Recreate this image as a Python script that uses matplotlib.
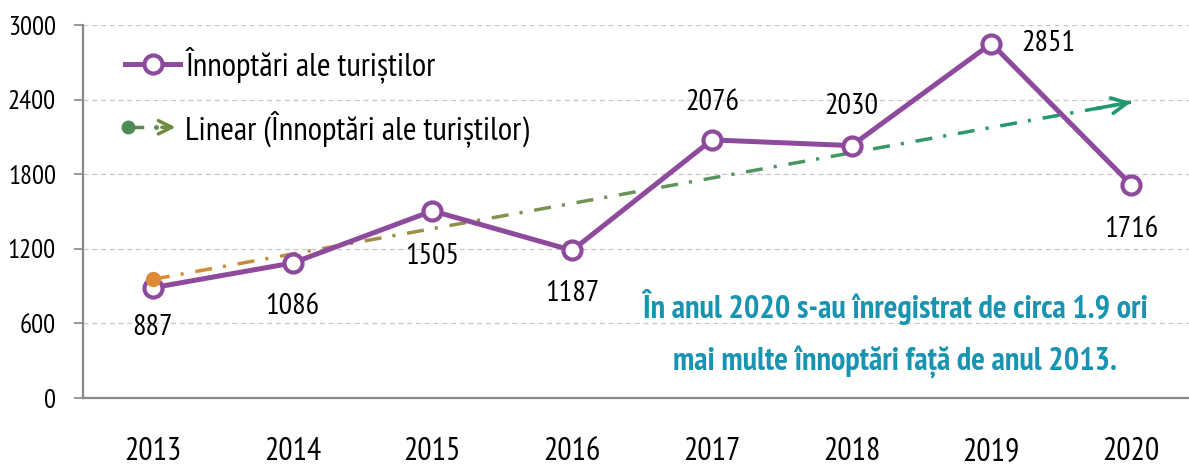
import numpy as np
import matplotlib
matplotlib.use('Agg')
import matplotlib.pyplot as plt
from matplotlib import font_manager as fm
from matplotlib.lines import Line2D
from matplotlib.patches import Rectangle, FancyArrowPatch
from matplotlib.legend_handler import HandlerBase
from matplotlib.colors import to_rgb

years = ['2013', '2014', '2015', '2016', '2017', '2018', '2019', '2020']
nights = [887, 1086, 1505, 1187, 2076, 2030, 2851, 1716]
y_ticks = [0, 600, 1200, 1800, 2400, 3000]
series_name = 'Înnoptări ale turiștilor'
trend_name = 'Linear (Înnoptări ale turiștilor)'
note_1 = 'În anul 2020 s-au înregistrat de circa 1.9 ori'
note_2 = 'mai multe înnoptări față de anul 2013.'

# narrow font like the original, if one is installed
installed = {f.name for f in fm.fontManager.ttflist}
for cand in ['PT Sans Narrow', 'Fira Sans Condensed', 'Roboto Condensed',
             'Liberation Sans Narrow', 'DejaVu Sans']:
    if cand in installed:
        font = cand
        break
plt.rcParams['font.family'] = [font, 'DejaVu Sans']

purple = '#8e4a9c'
orange = '#dc8a35'
green = '#20996e'
teal = '#1894b2'

fig = plt.figure(figsize=(11.89, 4.67), dpi=100)
ax = fig.add_axes([83 / 1189, 69 / 467, 1 - 83 / 1189, (398 - 25) / 467])
renderer = fig.canvas.get_renderer()


def fit_size(s, width_px, weight='normal'):
    t = fig.text(0, 0, s, fontsize=20, fontweight=weight)
    w = t.get_window_extent(renderer=renderer).width
    t.remove()
    return 20 * width_px / w


fs_ytick = fit_size('3000', 48)
fs_xtick = fit_size('2013', 57)
fs_label = fit_size('2851', 54)
fs_legend = fit_size(series_name, 250)
fs_note = fit_size(note_1, 505, 'bold')

x = np.arange(len(years))

# linear trend, drawn in clipped slices so the dash pattern stays continuous
coef = np.polyfit(x, nights, 1)
trend = np.polyval(coef, x)
c0, c1 = np.array(to_rgb(orange)), np.array(to_rgb(green))
n = 40
edges = np.linspace(0, len(years) - 1, n + 1)
for i in range(n):
    t = i / (n - 1)
    k = 1 - (1 - t) ** 1.4
    ln, = ax.plot(x, trend, color=c0 * (1 - k) + c1 * k, lw=2.5,
                  ls=(0, (4.9, 3.2, 0.9, 3.4)), zorder=2)
    ln.set_clip_path(Rectangle((edges[i], -1e4), edges[i + 1] - edges[i], 2e4,
                               transform=ax.transData))
ax.annotate('', xy=(x[-1], trend[-1]), xytext=(x[-1] - 0.25, trend[-1] - 0.25 * coef[0]),
            arrowprops=dict(arrowstyle='->', color=green, lw=2.6, mutation_scale=28,
                            shrinkA=0, shrinkB=0), zorder=2)

ax.plot(x, nights, color=purple, lw=3.6, marker='o', ms=13, mfc='white', mec=purple,
        mew=3, zorder=3, label=series_name)
ax.plot(x[0], trend[0], 'o', color=orange, ms=10, zorder=4)

offsets = [(0, -29), (0, -31), (0, -33), (0, -31), (0, 27), (0, 28), (41, 0), (0, -32)]
for xi, v, off in zip(x, nights, offsets):
    ax.annotate(str(v), (xi, v), xytext=off, textcoords='offset points',
                ha='center', va='center', fontsize=fs_label)

ax.text(5.31, 735, note_1, color=teal, fontsize=fs_note, fontweight='bold',
        ha='center', va='center')
ax.text(5.31, 285, note_2, color=teal, fontsize=fs_note, fontweight='bold',
        ha='center', va='center')

ax.set_xlim(-0.5, 7.5 - 12 / 139.7)
ax.set_ylim(0, 3000)
ax.set_xticks(x)
ax.set_xticklabels(years)
ax.set_yticks(y_ticks)
ax.tick_params(axis='x', length=0, pad=28, labelsize=fs_xtick)
ax.tick_params(axis='y', length=6.5, width=1.2, color='#888888', pad=13, labelsize=fs_ytick)
ax.grid(axis='y', ls=(0, (4, 3)), color='#c8c8c8', lw=0.9)
ax.set_axisbelow(True)
for s in ['top', 'right']:
    ax.spines[s].set_visible(False)
for s in ['left', 'bottom']:
    ax.spines[s].set_color('#888888')
    ax.spines[s].set_linewidth(1.6)


class TrendHandler(HandlerBase):
    def create_artists(self, legend, orig_handle, xdescent, ydescent, width, height,
                       fontsize, trans):
        x0 = -xdescent
        yc = height / 2 - ydescent
        tail = Line2D([x0 + 2, x0 + 12], [yc, yc], color='#5a8a52', lw=2.5, transform=trans)
        dot = Line2D([x0 + 2], [yc], marker='o', color='#4e8a55', ms=9, transform=trans)
        small = Line2D([x0 + width * 0.57], [yc], marker='o', color='#5f8d50', ms=2.5,
                       transform=trans)
        arr = FancyArrowPatch((x0 + width * 0.62, yc), (x0 + width * 0.97, yc),
                              arrowstyle='->', mutation_scale=24, lw=2.5,
                              color='#6f8c40', transform=trans)
        return [tail, dot, small, arr]


h1 = Line2D([], [], color=purple, lw=3.6, marker='o', ms=13, mfc='white', mec=purple, mew=3)
h2 = object()
ax.legend([h1, h2], [series_name, trend_name], handler_map={object: TrendHandler()},
          loc='upper left', bbox_to_anchor=(42 / 1106, 0.942), frameon=False,
          fontsize=fs_legend, borderpad=0, borderaxespad=0,
          handlelength=39.6 / fs_legend, handletextpad=3.6 / fs_legend,
          labelspacing=0.8)

fig.savefig('out.png', dpi=100)
